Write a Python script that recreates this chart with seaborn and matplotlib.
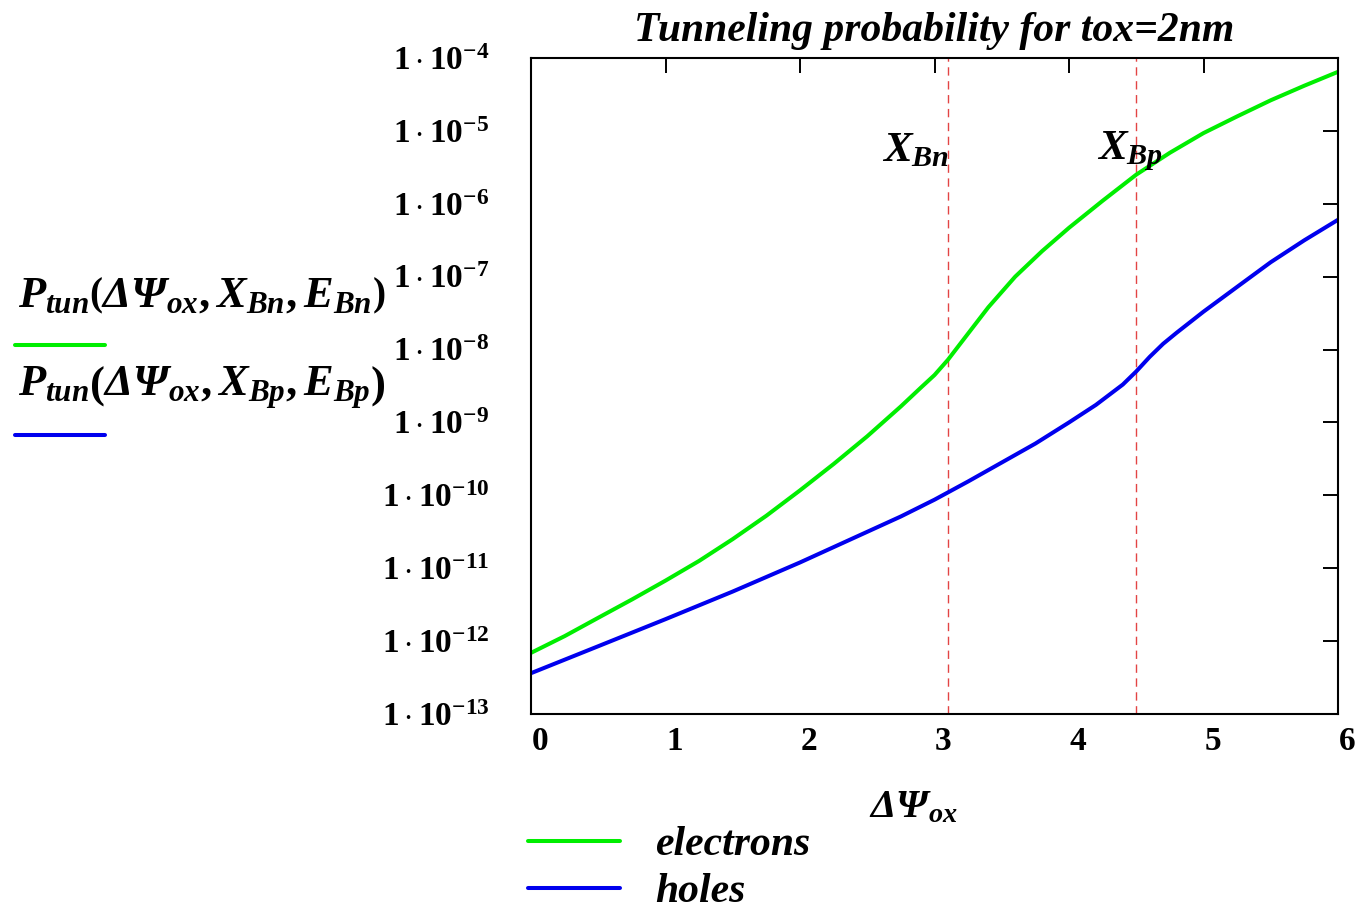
import numpy as np
import pandas as pd
import matplotlib
matplotlib.use("Agg")
import matplotlib.pyplot as plt
import matplotlib.transforms as mtrans
from matplotlib.lines import Line2D
import seaborn as sns

# ---------------- data ----------------
x_electrons = [0.0, 0.25, 0.5, 0.75, 1.0, 1.25, 1.5, 1.75, 2.0, 2.25, 2.5, 2.75, 2.9, 3.0, 3.1,
               3.25, 3.4, 3.6, 3.8, 4.0, 4.25, 4.5, 4.75, 5.0, 5.25, 5.5, 5.75, 6.0]
p_electrons = [6.9e-13, 1.17e-12, 2.09e-12, 3.72e-12, 6.76e-12, 1.26e-11, 2.51e-11, 5.25e-11,
               1.17e-10, 2.69e-10, 6.46e-10, 1.66e-9, 3.02e-9, 4.47e-9, 7.24e-9,
               1.66e-8, 3.80e-8, 1.0e-7, 2.24e-7, 4.68e-7, 1.10e-6, 2.51e-6, 5.01e-6, 9.33e-6,
               1.58e-5, 2.63e-5, 4.17e-5, 6.46e-5]
x_holes = [0.0, 0.5, 1.0, 1.5, 2.0, 2.5, 2.75, 3.0, 3.25, 3.5, 3.75, 4.0, 4.2, 4.4, 4.5, 4.6,
           4.7, 4.8, 5.0, 5.25, 5.5, 5.75, 6.0]
p_holes = [3.63e-13, 8.51e-13, 2.0e-12, 4.79e-12, 1.20e-11, 3.16e-11, 5.13e-11, 8.71e-11,
           1.55e-10, 2.82e-10, 5.13e-10, 1.0e-9, 1.74e-9, 3.31e-9, 5.01e-9, 7.94e-9,
           1.20e-8, 1.70e-8, 3.31e-8, 7.24e-8, 1.58e-7, 3.16e-7, 6.03e-7]
series_names = ["electrons", "holes"]
series_colors = ["#00ee00", "#0000ee"]
X_Bn = 3.1
X_Bp = 4.5
x_ticks = [0, 1, 2, 3, 4, 5, 6]
y_exponents = [-13, -12, -11, -10, -9, -8, -7, -6, -5, -4]
title_text = "Tunneling probability for tox=2nm"

# ---------------- style ----------------
sns.set_style("white")
plt.rcParams["font.family"] = ["Liberation Serif", "DejaVu Serif"]
plt.rcParams["text.color"] = "black"
plt.rcParams["axes.labelcolor"] = "black"
plt.rcParams["xtick.color"] = "black"
plt.rcParams["ytick.color"] = "black"
plt.rcParams["mathtext.fontset"] = "custom"
plt.rcParams["mathtext.rm"] = "Liberation Serif:bold"
plt.rcParams["mathtext.bf"] = "Liberation Serif:bold"
plt.rcParams["mathtext.it"] = "Liberation Serif:italic:bold"
plt.rcParams["mathtext.sf"] = "Liberation Serif:italic:bold"

df = pd.concat([
    pd.DataFrame({"dpsi": x_electrons, "P": p_electrons, "carrier": series_names[0]}),
    pd.DataFrame({"dpsi": x_holes, "P": p_holes, "carrier": series_names[1]}),
], ignore_index=True)

W, H = 1356, 910
fig = plt.figure(figsize=(W / 100, H / 100), dpi=100)
L, R, T, B = 531, 1338, 58, 714
ax = fig.add_axes([L / W, 1 - B / H, (R - L) / W, (B - T) / H])

sns.lineplot(data=df, x="dpsi", y="P", hue="carrier", palette=dict(zip(series_names, series_colors)),
             estimator=None, sort=False, linewidth=2.9, legend=False, ax=ax)
for ln in ax.lines:
    ln.set_solid_joinstyle("round")

ax.set_yscale("log")
ax.set_xlim(0, 6)
ax.set_ylim(10.0 ** y_exponents[0], 10.0 ** y_exponents[-1])

for xv in (X_Bn, X_Bp):
    ax.axvline(xv, color="#e03030", lw=1.0, ls=(0, (6, 4)), alpha=0.9, zorder=1)

ax.text(X_Bn - 0.24, 10 ** -5.28, r"$X_{Bn}$", fontsize=31, ha="center", va="center")
ax.text(X_Bp - 0.05, 10 ** -5.28, r"$X_{Bp}$", fontsize=31, ha="center", va="center")

# ticks
ax.set_xticks(x_ticks)
ax.set_xticklabels([str(v) for v in x_ticks], fontsize=24, fontweight="bold")
ax.set_yticks([10.0 ** e for e in y_exponents])
ax.set_yticklabels([r"$1\cdot10^{%d}$" % e for e in y_exponents], fontsize=24)
ax.minorticks_off()
ax.tick_params(axis="both", which="major", direction="in", length=11, width=1.4,
               top=True, right=True, colors="black")
ax.tick_params(axis="x", pad=9)
ax.tick_params(axis="y", pad=30)
off = mtrans.ScaledTranslation(9 / 100, 0, fig.dpi_scale_trans)
for lab in ax.get_xticklabels():
    lab.set_transform(lab.get_transform() + off)

for s in ax.spines.values():
    s.set_visible(True)
    s.set_color("black")
    s.set_linewidth(1.5)

ax.set_xlabel(r"$\mathsf{\Delta\Psi}_{ox}$", fontsize=29)
ax.xaxis.set_label_coords((913 - L) / (R - L), -(808 - B) / (B - T))
ax.xaxis.label.set_va("center")
ax.set_ylabel("")

ax.set_title(title_text, fontsize=30, fontweight="bold", fontstyle="italic", pad=12)

# y-axis label with line samples
fig.text(18 / W, 1 - 296 / H, r"$P_{tun}\left(\mathsf{\Delta\Psi}_{ox},X_{Bn},E_{Bn}\right)$",
         fontsize=32, ha="left", va="center")
fig.text(18 / W, 1 - 388 / H, r"$P_{tun}\left(\mathsf{\Delta\Psi}_{ox},X_{Bp},E_{Bp}\right)$",
         fontsize=32, ha="left", va="center")
for ypx, c in ((345, series_colors[0]), (435, series_colors[1])):
    fig.add_artist(Line2D([15 / W, 105 / W], [1 - ypx / H, 1 - ypx / H], color=c, lw=2.9,
                          transform=fig.transFigure, solid_capstyle="round"))

# bottom legend
handles = [Line2D([], [], color=c, lw=2.9) for c in series_colors]
leg = fig.legend(handles, series_names, loc="upper left", bbox_to_anchor=(528 / W, 1 - 826 / H),
                 frameon=False, handlelength=2.2, handletextpad=0.85,
                 labelspacing=0.22, borderpad=0, borderaxespad=0,
                 prop={"family": "Liberation Serif", "weight": "bold", "style": "italic", "size": 30})

fig.savefig("out.png", dpi=100, facecolor="white")
